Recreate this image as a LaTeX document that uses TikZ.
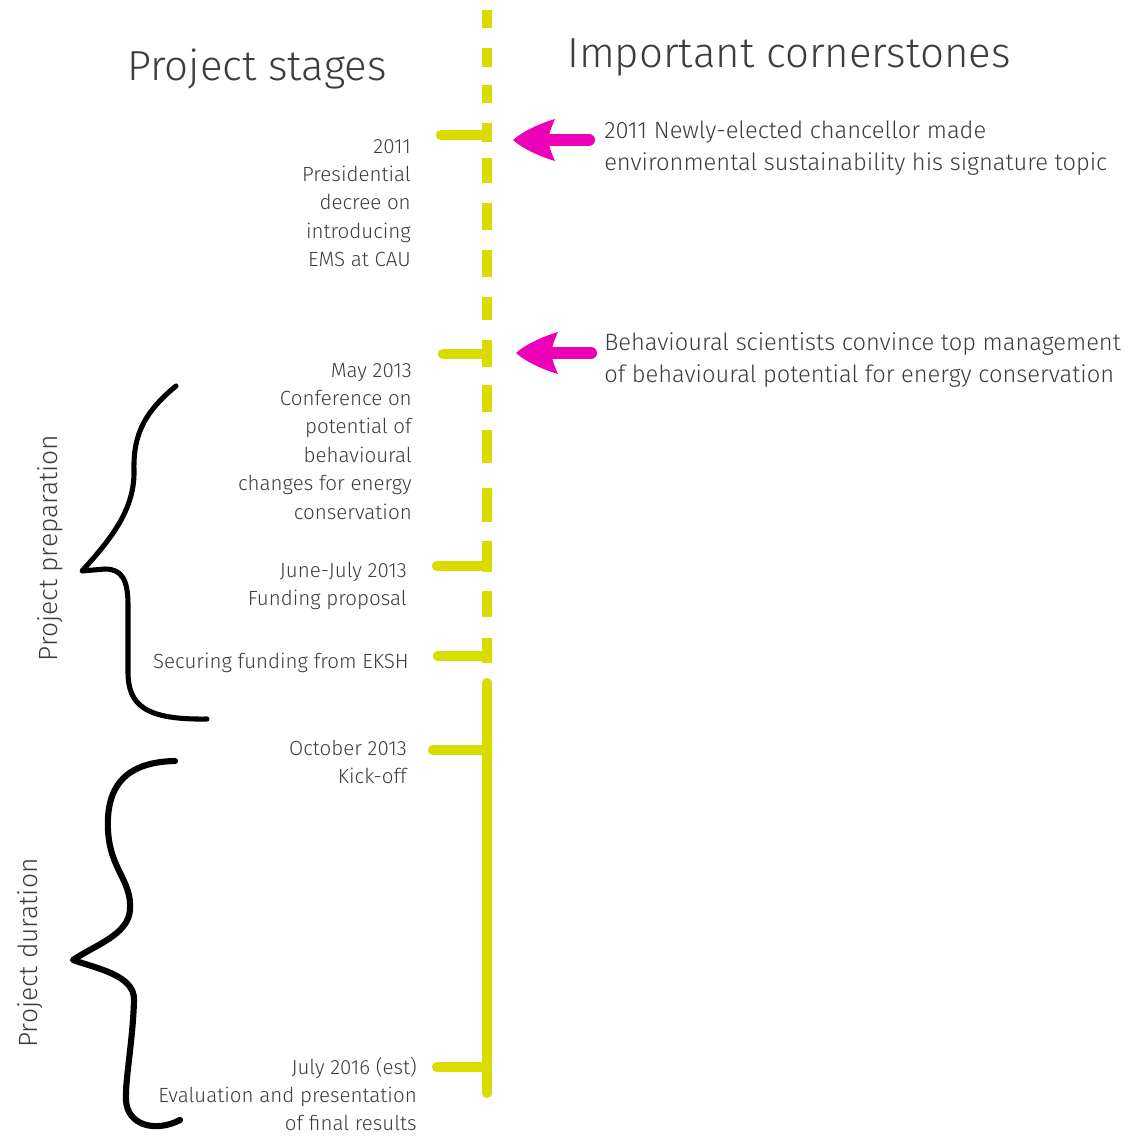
\documentclass[tikz,border=0pt]{standalone}
\usepackage{fontspec}
\setmainfont{Fira Sans Light}
\definecolor{tly}{HTML}{DADC00}
\definecolor{mag}{HTML}{EC00B8}
\definecolor{txt}{HTML}{3C3C3C}
\begin{document}
\begin{tikzpicture}[x=0.75pt,y=-0.75pt,
  tl/.style={draw=tly,line width=7.5pt},
  tick/.style={draw=tly,line width=7.8pt,line cap=round},
  lefttxt/.style={anchor=north east,align=right,inner sep=0pt,text=txt,font=\fontsize{15.4pt}{21.3pt}\selectfont},
  righttxt/.style={anchor=north west,align=left,inner sep=0pt,text=txt,font=\fontsize{17.75pt}{24.4pt}\selectfont},
  title/.style={anchor=base west,inner sep=0pt,text=txt,font=\fontsize{31.5pt}{40pt}\selectfont},
  sidelabel/.style={rotate=90,inner sep=0pt,text=txt,font=\fontsize{19.8pt}{24pt}\selectfont},
  brace/.style={draw=black,line width=3.8pt,line cap=round,line join=round},
  shaft/.style={draw=mag,line width=9pt,line cap=round},
  head/.style={fill=mag}]
\useasboundingbox (0,0) rectangle (1127,1142);

% titles
\node[title] (t1) at (127,80) {Project stages};
\node[title] (t2) at (567,67) {Important cornerstones};

% timeline
\foreach \a/\b in {10/28,48/67,85/103,123/142,158/183,203/230,250/277,297/320,340/367,385/412,430/463,488/522,541/572,591/617,638/663}
  \draw[tl] (487,\a) -- (487,\b);
\draw[tl,line cap=round] (487,683) -- (487,1093);

% ticks
\coordinate (k1) at (487,135);  \coordinate (k1l) at (441,135);
\coordinate (k2) at (487,354);  \coordinate (k2l) at (443,354);
\coordinate (k3) at (487,566);  \coordinate (k3l) at (437,566);
\coordinate (k4) at (487,656);  \coordinate (k4l) at (438,656);
\coordinate (k5) at (487,750);  \coordinate (k5l) at (433,750);
\coordinate (k6) at (487,1067); \coordinate (k6l) at (437,1067);
\foreach \k in {1,...,6} \draw[tick] (k\k l) -- (k\k);

% left texts
\node[lefttxt] (s1) at (411,133) {\strut 2011\\Presidential\\decree on\\introducing\\EMS at CAU};
\node[lefttxt] (s2) at (412,357) {\strut May 2013\\Conference on\\potential of\\behavioural\\changes for energy\\conservation};
\node[lefttxt] (s3) at (407,557) {\strut June-July 2013\\Funding proposal};
\node[lefttxt] (s4) at (409,648) {\strut Securing funding from EKSH};
\node[lefttxt] (s5) at (407,735) {\strut October 2013\\Kick-off};
\node[lefttxt] (s6) at (417,1054) {\strut July 2016 (est)\\Evaluation and presentation\\of final results};

% right texts
\node[righttxt] (c1) at (604,115) {\strut 2011 Newly-elected chancellor made\\environmental sustainability his signature topic};
\node[righttxt] (c2) at (604,327) {\strut Behavioural scientists convince top management\\of behavioural potential for energy conservation};

% arrows
\coordinate (a1tail) at (589,140); \coordinate (a1neck) at (550,140); \coordinate (a1tip) at (513,140);
\coordinate (a2tail) at (591,353); \coordinate (a2neck) at (553,353); \coordinate (a2tip) at (516,353);
\foreach \i in {1,2}{
  \draw[shaft] (a\i tail) -- (a\i neck);
  \begin{scope}[shift={(a\i tip)}]
    \fill[head] (0,0) .. controls (10,-9) and (28,-17) .. (42,-21)
      .. controls (38,-12) and (36,-6) .. (35,0)
      .. controls (36,6) and (38,12) .. (42,21)
      .. controls (28,17) and (10,9) .. (0,0) -- cycle;
  \end{scope}
}

% braces
\coordinate (b1top) at (176,386);
\coordinate (b1bot) at (207,719);
\draw[brace] (b1top) .. controls (147,410) and (133,432) .. (134,470)
  .. controls (135,510) and (110,540) .. (82,571)
  -- (105,569) .. controls (122,569) and (128,580) .. (128,605)
  -- (128,672) .. controls (128,705) and (145,720) .. (b1bot);
\coordinate (b2top) at (175,761);
\coordinate (b2bot) at (180,1120);
\draw[brace,line width=4.6pt] (b2top) .. controls (122,762) and (106,790) .. (108,830)
  .. controls (110,870) and (132,880) .. (130,910)
  .. controls (128,935) and (95,945) .. (73,960)
  .. controls (95,968) and (135,975) .. (134,1000)
  .. controls (133,1040) and (125,1080) .. (126,1100)
  .. controls (127,1125) and (155,1133) .. (b2bot);

% side labels
\node[sidelabel] (p1) at (50,548) {Project preparation};
\node[sidelabel] (p2) at (30,953) {Project duration};
\end{tikzpicture}
\end{document}
